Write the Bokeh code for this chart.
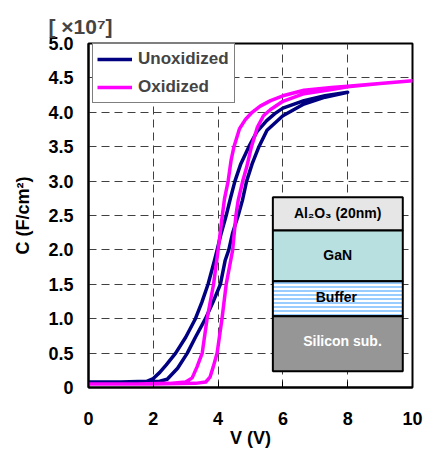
from bokeh.plotting import figure
from bokeh.models import Label, FixedTicker, Legend, LegendItem, Range1d, PrintfTickFormatter
from bokeh.embed import file_html
from bokeh.resources import INLINE

# ---- data (V in volts, C in units of 1e-7 F/cm^2) ----
unox_v = [0, 1.0, 1.8, 2.0, 2.2, 2.4, 2.69, 3.0, 3.30, 3.50, 3.69, 3.89, 3.97, 4.10, 4.25, 4.38, 4.52, 4.70, 4.95, 5.20, 5.50, 5.75, 6.0, 6.65, 7.3, 8.0,
          8.0, 7.3, 6.65, 6.0, 5.51, 5.26, 5.05, 4.88, 4.75, 4.62, 4.45, 4.33, 4.22, 4.07, 3.85, 3.61, 3.30, 3.05, 2.75, 2.43, 2.2, 1.8, 1.0, 0]
unox_c = [0.08, 0.08, 0.09, 0.13, 0.22, 0.33, 0.50, 0.73, 1.00, 1.24, 1.50, 1.85, 2.00, 2.25, 2.50, 2.75, 3.00, 3.25, 3.50, 3.72, 3.88, 3.98, 4.06, 4.17, 4.24, 4.29,
          4.29, 4.22, 4.12, 3.95, 3.74, 3.50, 3.25, 3.00, 2.72, 2.50, 2.25, 2.00, 1.85, 1.50, 1.25, 1.00, 0.73, 0.50, 0.28, 0.12, 0.09, 0.08, 0.08, 0.08]

ox_v = [0, 1.5, 2.5, 3.0, 3.2, 3.35, 3.51, 3.66, 3.86, 4.0, 4.13, 4.20, 4.31, 4.40, 4.49, 4.66, 4.85, 5.05, 5.30, 5.62, 6.0, 6.65, 7.5, 8.0, 9.0, 10.0,
        10.0, 9.0, 8.0, 7.5, 6.65, 6.0, 5.62, 5.40, 5.21, 5.03, 4.88, 4.76, 4.62, 4.55, 4.45, 4.25, 4.12, 3.97, 3.85, 3.75, 3.62, 3.3, 2.0, 0]
ox_c = [0.05, 0.05, 0.06, 0.08, 0.14, 0.30, 0.50, 1.00, 1.50, 2.00, 2.50, 2.75, 3.00, 3.30, 3.50, 3.76, 3.90, 4.00, 4.09, 4.17, 4.24, 4.32, 4.36, 4.38, 4.42, 4.46,
        4.46, 4.42, 4.37, 4.33, 4.27, 4.16, 4.04, 3.95, 3.78, 3.50, 3.20, 3.00, 2.72, 2.50, 2.00, 1.50, 1.00, 0.50, 0.30, 0.15, 0.08, 0.06, 0.05, 0.05]

series_names = ["Unoxidized", "Oxidized"]
x_ticks = [0, 2, 4, 6, 8, 10]
y_ticks = [0, 0.5, 1.0, 1.5, 2.0, 2.5, 3.0, 3.5, 4.0, 4.5, 5.0]

FONT = "Liberation Sans"
NAVY = "#000080"
MAGENTA = "#FF00FF"

p = figure(width=425, height=453, x_range=Range1d(0, 10), y_range=Range1d(0, 5),
           output_backend="svg", toolbar_location=None,
           min_border_left=88, min_border_right=13, min_border_top=43, min_border_bottom=66)
p.background_fill_color = "white"
p.border_fill_color = "white"
p.outline_line_color = "black"
p.outline_line_width = 2

# multiplier as title
p.title.text = "[ ×10⁷]"
p.title.align = "left"
p.title.offset = -40
p.title.standoff = 12
p.title.text_font = FONT
p.title.text_font_style = "bold"
p.title.text_font_size = "21px"

# grid
p.xgrid.ticker = FixedTicker(ticks=[2, 4, 6, 8])
p.ygrid.ticker = FixedTicker(ticks=[0.5, 1.0, 1.5, 2.0, 2.5, 3.0, 3.5, 4.0, 4.5])
for g in (p.xgrid, p.ygrid):
    g.grid_line_color = "#404040"
    g.grid_line_dash = "8 5"
    g.grid_line_width = 1

# axes
p.xaxis.ticker = FixedTicker(ticks=x_ticks)
p.yaxis.ticker = FixedTicker(ticks=y_ticks)
p.yaxis.formatter = PrintfTickFormatter(format="%.1f")
p.yaxis.major_label_overrides = {0: "0"}
for ax in (p.xaxis, p.yaxis):
    ax.axis_line_color = "black"
    ax.axis_line_width = 2
    ax.major_label_text_font = FONT
    ax.major_label_text_font_style = "bold"
    ax.major_label_text_font_size = "18px"
    ax.major_label_text_color = "black"
    ax.minor_tick_line_color = None
    ax.major_tick_line_color = "black"
    ax.axis_label_text_font = FONT
    ax.axis_label_text_font_style = "bold"
    ax.axis_label_text_font_size = "18px"
    ax.axis_label_text_color = "black"
p.xaxis.axis_label = "V (V)"
p.yaxis.axis_label = "C (F/cm²)"
p.xaxis.major_tick_in = 6
p.xaxis.major_tick_out = 0
p.xaxis.major_label_standoff = 24
p.xaxis.axis_label_standoff = 0
p.yaxis.major_tick_in = 0
p.yaxis.major_tick_out = 0
p.yaxis.major_label_standoff = 15
p.yaxis.axis_label_standoff = 12

# inset: layer structure
ix0, ix1 = 5.69, 9.70
p.quad(left=ix0, right=ix1, bottom=2.282, top=2.766, fill_color="#E6E6E6", line_color="black", line_width=2)
p.quad(left=ix0, right=ix1, bottom=1.545, top=2.282, fill_color="#B8E0E0", line_color="black", line_width=2)
p.quad(left=ix0, right=ix1, bottom=1.036, top=1.545, fill_color="white", line_color="black", line_width=2,
       hatch_pattern="horizontal_line", hatch_color="#99CCFF", hatch_scale=4, hatch_weight=2)
p.quad(left=ix0, right=ix1, bottom=0.237, top=1.036, fill_color="#969696", line_color="black", line_width=2)

def lab(x, y, text, size="14px", color="black"):
    p.add_layout(Label(x=x, y=y, text=text, text_font=FONT, text_font_style="bold",
                       text_font_size=size, text_color=color, text_align="center",
                       text_baseline="middle"))

lab(7.69, 2.53, "Al₂O₃ (20nm)")
lab(7.69, 1.92, "GaN")
lab(7.65, 1.32, "Buffer")
lab(7.84, 0.67, "Silicon sub.", color="white")

# curves
r1 = p.line(unox_v, unox_c, line_color=NAVY, line_width=3.5, line_join="round")
r2 = p.line(ox_v, ox_c, line_color=MAGENTA, line_width=3.5, line_join="round")

legend = Legend(items=[LegendItem(label=series_names[0], renderers=[r1]),
                       LegendItem(label=series_names[1], renderers=[r2])],
                location=(4, 284), margin=0, padding=4, spacing=6,
                glyph_width=35, glyph_height=22, label_height=22, label_width=92,
                label_standoff=6, label_text_font=FONT, label_text_font_style="bold",
                label_text_font_size="17px", border_line_color="black", border_line_width=1,
                background_fill_color="white", background_fill_alpha=1.0)
p.add_layout(legend)

open("out.html", "w").write(file_html(p, INLINE))
